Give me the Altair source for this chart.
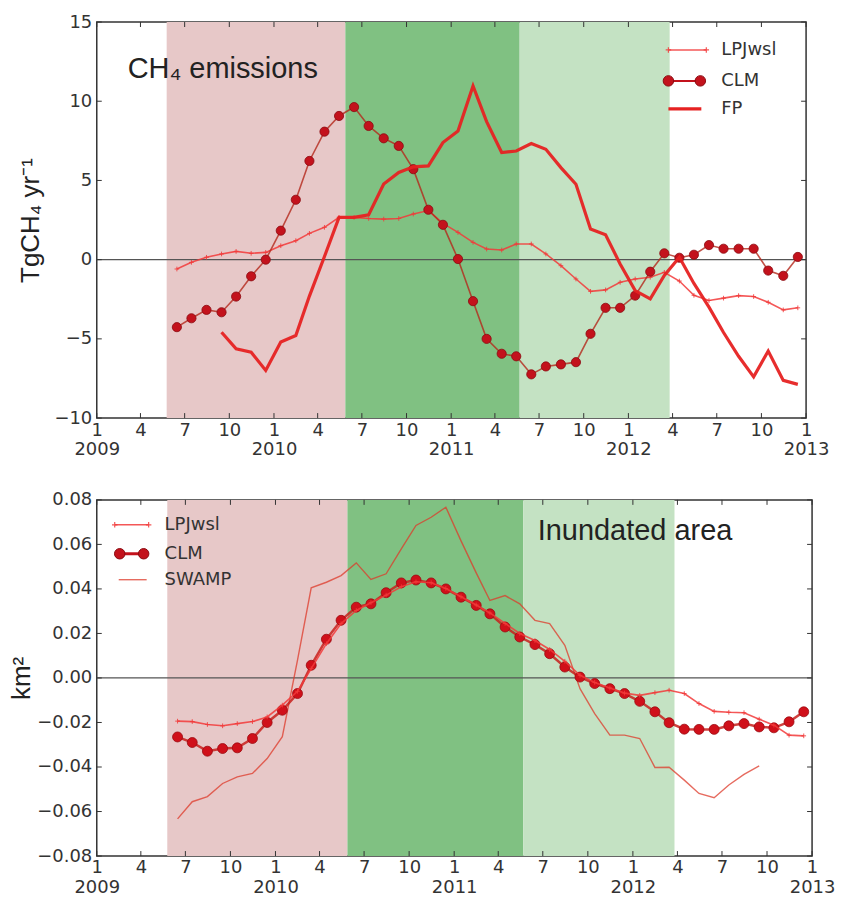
import altair as alt
import pandas as pd

# ------------------------------------------------------------------ data
months = (["2009-%02d-15" % m for m in range(6, 13)]
          + ["%d-%02d-15" % (y, m) for y in (2010, 2011, 2012) for m in range(1, 13)])

# CH4 emission anomalies (TgCH4 / yr)
ch4_lpj = [-0.59, -0.17, 0.15, 0.36, 0.52, 0.40, 0.46,
           0.88, 1.20, 1.66, 2.04, 2.67, 2.67, 2.60, 2.56, 2.60, 2.88, 3.10, 2.29,
           1.72, 1.09, 0.67, 0.61, 0.99, 0.99, 0.36, -0.38, -1.22, -2.00, -1.91, -1.43,
           -1.22, -1.11, -0.80, -1.35, -2.25, -2.58, -2.43, -2.27, -2.33, -2.69, -3.17, -3.04]
ch4_clm = [-4.26, -3.70, -3.17, -3.32, -2.33, -1.05, 0.00,
           1.83, 3.78, 6.23, 8.08, 9.07, 9.63, 8.44, 7.66, 7.18, 5.71, 3.15, 2.20,
           0.04, -2.62, -5.00, -5.94, -6.10, -7.24, -6.74, -6.61, -6.47, -4.68, -3.04, -3.04,
           -2.27, -0.76, 0.40, 0.12, 0.31, 0.92, 0.69, 0.69, 0.69, -0.69, -1.02, 0.17]
fp_months = months[3:]
ch4_fp = [-4.58, -5.63, -5.84, -6.99,
          -5.20, -4.79, -2.30, 0.20, 2.67, 2.67, 2.83, 4.77, 5.50, 5.86, 5.92, 7.39,
          8.12, 10.96, 8.71, 6.76, 6.86, 7.33, 6.97, 5.81, 4.76, 1.93, 1.57, -0.27,
          -1.95, -2.48, -1.00, 0.15, -1.50, -3.00, -4.60, -6.10, -7.40, -5.77, -7.62, -7.87]

# Inundated area anomalies (km2)
area_lpj = [-0.0194, -0.0196, -0.0209, -0.0215, -0.0205, -0.0196, -0.0175,
            -0.0122, -0.0060, 0.0042, 0.0154, 0.0244, 0.0303, 0.0338, 0.0372, 0.0410, 0.0432, 0.0428, 0.0402,
            0.0365, 0.0328, 0.0292, 0.0245, 0.0200, 0.0168, 0.0128, 0.0075, 0.0012, -0.0020, -0.0045, -0.0068,
            -0.0078, -0.0066, -0.0055, -0.0070, -0.0115, -0.0150, -0.0154, -0.0156, -0.0185, -0.0212, -0.0257, -0.0260]
area_clm = [-0.0265, -0.0290, -0.0329, -0.0317, -0.0314, -0.0272, -0.0200,
            -0.0145, -0.0070, 0.0057, 0.0174, 0.0259, 0.0318, 0.0333, 0.0383, 0.0427, 0.0440, 0.0427, 0.0400,
            0.0363, 0.0326, 0.0288, 0.0229, 0.0184, 0.0150, 0.0109, 0.0049, 0.0004, -0.0025, -0.0048, -0.0070,
            -0.0105, -0.0152, -0.0201, -0.0230, -0.0231, -0.0231, -0.0215, -0.0205, -0.0220, -0.0224, -0.0197, -0.0152]
swamp_months = months[:40]
area_swamp = [-0.0633, -0.0556, -0.0533, -0.0474, -0.0444, -0.0429, -0.0362,
              -0.0264, 0.0080, 0.0405, 0.0430, 0.0460, 0.0517, 0.0443, 0.0468, 0.0580, 0.0685, 0.0722, 0.0767,
              0.0616, 0.0472, 0.0348, 0.0370, 0.0333, 0.0259, 0.0244, 0.0147, -0.0048, -0.0160, -0.0257, -0.0257,
              -0.0272, -0.0402, -0.0401, -0.0459, -0.0519, -0.0538, -0.0481, -0.0433, -0.0395]

# shaded periods
band_names = ["phase1", "phase2", "phase3"]
band_start = ["2009-05-25", "2010-05-28", "2011-05-22"]
band_end = ["2010-05-28", "2011-05-22", "2012-03-26"]

# tick values
tick_dates = [(y, m) for y in (2009, 2010, 2011, 2012) for m in (1, 4, 7, 10)] + [(2013, 1)]
tick_strings = ["%d-%02d-01" % (y, m) for y, m in tick_dates]
ch4_ticks = [-10, -5, 0, 5, 10, 15]
area_ticks = [-0.08, -0.06, -0.04, -0.02, 0.0, 0.02, 0.04, 0.06, 0.08]

# ------------------------------------------------------------------ styles
BAND_COLORS = ["#e7c8c8", "#80c182", "#c4e2c3"]
C_LPJ = "#f23a3a"
C_CLM = "#c3121c"
C_FP = "#e62222"
C_SWAMP = "#dd3a2a"
TICK_FONT = "DejaVu Sans"
TEXT_FONT = "Liberation Sans"
PLUS = "M-1,0L1,0M0,-1L0,1"

x_axis = alt.Axis(
    values=[alt.DateTime(year=y, month=m, date=1, utc=True) for y, m in tick_dates],
    labelExpr=("utcmonth(datum.value) == 0 ? ['' + (utcmonth(datum.value) + 1), '' + utcyear(datum.value)]"
               " : '' + (utcmonth(datum.value) + 1)"),
    ticks=False, domain=False, grid=False,
    labelFont=TICK_FONT, labelFontSize=18, labelColor="#333", labelPadding=3,
    labelLineHeight=20, labelFlush=False, labelOverlap=False, labelBound=False,
)
x_scale = alt.Scale(type="utc", domain=[alt.DateTime(year=2009, month=1, date=1, utc=True),
                                        alt.DateTime(year=2013, month=1, date=1, utc=True)])


def X(field):
    return alt.X(field + ":T", scale=x_scale, axis=x_axis, title=None)


def make_y(domain, ticks, fmt, title, tpad):
    axis = alt.Axis(values=ticks, format=fmt, ticks=False, domain=False, grid=False,
                    labelFont=TICK_FONT, labelFontSize=18, labelColor="#333", labelPadding=5,
                    labelFlush=False, labelOverlap=False,
                    title=title, titleFont=TEXT_FONT, titleFontSize=26, titleFontWeight="normal",
                    titleColor="#222", titlePadding=tpad)
    scale = alt.Scale(domain=domain, nice=False, zero=False)

    def Y(field):
        return alt.Y(field + ":Q", scale=scale, axis=axis)
    return Y


def one(label):
    return pd.DataFrame({"t": [label]})


def legend_entry(label, x1, x2, y, tx, kind, color, width, opacity=1.0):
    layers = []
    layers.append(alt.Chart(one(label)).mark_rule(color=color, strokeWidth=width, opacity=opacity)
                  .encode(x=alt.value(x1), x2=alt.value(x2), y=alt.value(y)))
    if kind == "dot":
        for px in (x1, x2):
            layers.append(alt.Chart(one(label)).mark_point(shape="circle", filled=True, size=110,
                                                           fill=C_CLM, stroke="#8a0a10", strokeWidth=1, opacity=1)
                          .encode(x=alt.value(px), y=alt.value(y)))
    if kind == "plus":
        for px in (x1, x2):
            layers.append(alt.Chart(one(label)).mark_point(shape=PLUS, filled=False, size=30,
                                                           color=color, strokeWidth=1.2, opacity=opacity)
                          .encode(x=alt.value(px), y=alt.value(y)))
    layers.append(alt.Chart(one(label)).mark_text(align="left", baseline="middle", font=TICK_FONT,
                                                  fontSize=18, color="#333")
                  .encode(x=alt.value(tx), y=alt.value(y), text="t:N"))
    return layers


def frame_ticks(W, H, Y, yticks):
    xt = pd.DataFrame({"d": tick_strings})
    yt = pd.DataFrame({"v": yticks})
    L = 5
    return [
        alt.Chart(xt).mark_rule(color="#333", strokeWidth=1).encode(x=X("d"), y=alt.value(0), y2=alt.value(L)),
        alt.Chart(xt).mark_rule(color="#333", strokeWidth=1).encode(x=X("d"), y=alt.value(H - L), y2=alt.value(H)),
        alt.Chart(yt).mark_rule(color="#333", strokeWidth=1).encode(y=Y("v"), x=alt.value(0), x2=alt.value(L)),
        alt.Chart(yt).mark_rule(color="#333", strokeWidth=1).encode(y=Y("v"), x=alt.value(W - L), x2=alt.value(W)),
    ]


bands_df = pd.DataFrame({"phase": band_names, "start": band_start, "end": band_end})


def bands_layer():
    return alt.Chart(bands_df).mark_rect(opacity=1).encode(
        x=X("start"), x2="end",
        color=alt.Color("phase:N", scale=alt.Scale(domain=band_names, range=BAND_COLORS), legend=None))


# ------------------------------------------------------------------ top panel
W1, H1 = 711, 397
Y1 = make_y([-10, 15], ch4_ticks, "d", "TgCH₄ yr⁻¹", 10)

top_lpj = pd.DataFrame({"date": months, "v": ch4_lpj})
top_clm = pd.DataFrame({"date": months, "v": ch4_clm})
top_fp = pd.DataFrame({"date": fp_months, "v": ch4_fp})

top_layers = [
    bands_layer(),
    alt.Chart(pd.DataFrame({"v": [0]})).mark_rule(color="#555", strokeWidth=1.2).encode(y=Y1("v")),
    alt.Chart(top_lpj).mark_line(color=C_LPJ, strokeWidth=1.6, opacity=0.85).encode(x=X("date"), y=Y1("v")),
    alt.Chart(top_lpj).mark_point(shape=PLUS, filled=False, size=22, color=C_LPJ, strokeWidth=1, opacity=0.85)
       .encode(x=X("date"), y=Y1("v")),
    alt.Chart(top_clm).mark_line(color="#b4281c", strokeWidth=1.6, opacity=0.8).encode(x=X("date"), y=Y1("v")),
    alt.Chart(top_clm).mark_point(shape="circle", filled=True, size=85, fill=C_CLM, stroke="#8a0a10",
                                  strokeWidth=0.8, opacity=1).encode(x=X("date"), y=Y1("v")),
    alt.Chart(top_fp).mark_line(color=C_FP, strokeWidth=3.2, opacity=0.95).encode(x=X("date"), y=Y1("v")),
] + frame_ticks(W1, H1, Y1, ch4_ticks) \
  + legend_entry("LPJwsl", 573, 611, 28, 626, "plus", C_LPJ, 1.6, 0.85) \
  + legend_entry("CLM", 573, 605, 59, 626, "dot", C_CLM, 2.0) \
  + legend_entry("FP", 573, 606, 87, 626, "line", C_FP, 3.2) \
  + [alt.Chart(one("CH₄ emissions")).mark_text(align="left", baseline="alphabetic", font=TEXT_FONT,
                                               fontSize=29, color="#222")
     .encode(x=alt.value(31), y=alt.value(56), text="t:N")]

top = alt.layer(*top_layers).properties(width=W1, height=H1)

# ------------------------------------------------------------------ bottom panel
W2, H2 = 717, 357
Y2 = make_y([-0.08, 0.08], area_ticks, ".2f", "km²", 2)

bot_lpj = pd.DataFrame({"date": months, "v": area_lpj})
bot_clm = pd.DataFrame({"date": months, "v": area_clm})
bot_swamp = pd.DataFrame({"date": swamp_months, "v": area_swamp})

bot_layers = [
    bands_layer(),
    alt.Chart(pd.DataFrame({"v": [0]})).mark_rule(color="#555", strokeWidth=1.2).encode(y=Y2("v")),
    alt.Chart(bot_swamp).mark_line(color=C_SWAMP, strokeWidth=1.4, opacity=0.75).encode(x=X("date"), y=Y2("v")),
    alt.Chart(bot_clm).mark_line(color="#c8201c", strokeWidth=2.5, opacity=0.85).encode(x=X("date"), y=Y2("v")),
    alt.Chart(bot_clm).mark_point(shape="circle", filled=True, size=100, fill="#d0101a", stroke="#9a0a10",
                                  strokeWidth=0.8, opacity=1).encode(x=X("date"), y=Y2("v")),
    alt.Chart(bot_lpj).mark_line(color=C_LPJ, strokeWidth=1.6, opacity=0.85).encode(x=X("date"), y=Y2("v")),
    alt.Chart(bot_lpj).mark_point(shape=PLUS, filled=False, size=22, color=C_LPJ, strokeWidth=1, opacity=0.85)
       .encode(x=X("date"), y=Y2("v")),
] + frame_ticks(W2, H2, Y2, area_ticks) \
  + legend_entry("LPJwsl", 18, 52, 25, 68, "plus", C_LPJ, 1.6, 0.85) \
  + legend_entry("CLM", 23, 47, 54, 68, "dot", C_CLM, 3.0) \
  + legend_entry("SWAMP", 22, 50, 80, 68, "line", C_SWAMP, 1.4, 0.75) \
  + [alt.Chart(one("Inundated area")).mark_text(align="left", baseline="alphabetic", font=TEXT_FONT,
                                                fontSize=29, color="#222")
     .encode(x=alt.value(442), y=alt.value(40), text="t:N")]

bottom = alt.layer(*bot_layers).properties(width=W2, height=H2)

chart = (alt.vconcat(top, bottom, spacing=30)
         .properties(padding={"left": 8, "top": 11, "right": 5, "bottom": 5}, background="white")
         .configure_view(stroke="#333", strokeWidth=1.5))

chart.save("out.html", embed_options={"renderer": "svg", "actions": False})
